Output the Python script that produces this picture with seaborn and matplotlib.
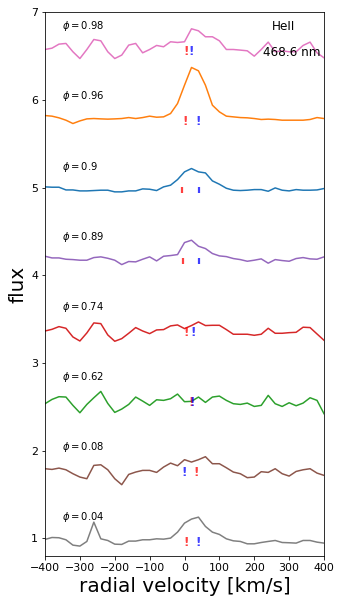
import numpy as np
import pandas as pd
import matplotlib
matplotlib.use("Agg")
import matplotlib.pyplot as plt
import seaborn as sns

# radial velocity grid [km/s]
velocity = np.arange(-400, 401, 20)

# orbital phases, bottom to top
phases = ['0.04', '0.08', '0.62', '0.74', '0.89', '0.9', '0.96', '0.98']
offsets = [0.0, 0.8, 1.6, 2.4, 3.2, 4.0, 4.8, 5.6]
colors = ['tab:gray', 'tab:brown', 'tab:green', 'tab:red',
          'tab:purple', 'tab:blue', 'tab:orange', 'tab:pink']

# normalized HeII 468.6 nm profiles
flux_004 = [0.989, 1.011, 1.008, 0.985, 0.924, 0.913, 0.966, 1.186, 0.996, 0.977,
            0.935, 0.932, 0.970, 0.970, 0.985, 0.985, 0.996, 0.992, 1.004, 1.072,
            1.175, 1.221, 1.243, 1.137, 1.072, 1.046, 0.996, 0.973, 0.966, 0.939,
            0.939, 0.954, 0.966, 0.977, 0.954, 0.951, 0.947, 0.977, 0.977, 0.958, 0.947]
flux_008 = [0.995, 0.987, 1.002, 0.983, 0.938, 0.900, 0.881, 1.033, 1.040, 0.983,
            0.881, 0.813, 0.930, 0.957, 0.976, 0.976, 0.953, 1.014, 1.059, 1.029,
            1.098, 1.071, 1.098, 1.132, 1.052, 1.052, 1.006, 0.957, 0.938, 0.893,
            0.900, 0.961, 0.953, 0.995, 0.938, 0.911, 0.964, 0.983, 0.995, 0.945, 0.919]
flux_062 = [0.936, 0.985, 1.016, 1.012, 0.917, 0.833, 0.928, 1.004, 1.076, 0.939,
            0.837, 0.875, 0.928, 1.012, 0.966, 0.917, 0.981, 0.974, 0.993, 1.046,
            0.959, 0.963, 1.012, 0.951, 1.012, 1.023, 0.974, 0.936, 0.928, 0.943,
            0.905, 0.917, 1.031, 0.936, 0.905, 0.947, 0.913, 0.943, 1.004, 0.974, 0.822]
flux_074 = [0.965, 0.984, 1.015, 0.996, 0.897, 0.851, 0.943, 1.057, 1.049, 0.920,
            0.848, 0.878, 0.939, 1.004, 0.965, 0.935, 0.977, 0.981, 1.023, 1.034,
            0.992, 1.027, 1.068, 1.027, 1.030, 1.030, 0.981, 0.928, 0.928, 0.928,
            0.916, 0.928, 0.996, 0.939, 0.939, 0.946, 0.950, 1.008, 1.004, 0.931, 0.859]
flux_089 = [1.017, 0.998, 0.998, 0.983, 0.979, 0.972, 0.972, 1.002, 1.010, 0.994,
            0.972, 0.922, 0.957, 0.953, 0.983, 1.010, 0.964, 1.017, 1.025, 1.036,
            1.173, 1.200, 1.131, 1.105, 1.048, 1.021, 1.013, 0.991, 0.979, 0.960,
            0.972, 0.987, 0.938, 0.979, 0.968, 0.960, 0.991, 1.002, 0.987, 0.983, 1.010]
flux_090 = [1.008, 1.004, 1.004, 0.973, 0.973, 0.962, 0.962, 0.966, 0.970, 0.970,
            0.951, 0.951, 0.962, 0.962, 0.985, 0.981, 0.966, 1.008, 1.027, 1.091,
            1.179, 1.217, 1.179, 1.167, 1.076, 1.038, 0.992, 0.970, 0.966, 0.970,
            0.977, 0.977, 0.958, 0.996, 0.970, 0.962, 0.977, 0.970, 0.970, 0.973, 0.989]
flux_096 = [1.021, 1.014, 0.995, 0.968, 0.930, 0.960, 0.983, 0.987, 0.983, 0.980,
            0.983, 0.987, 0.998, 0.987, 0.998, 1.014, 1.002, 1.006, 1.044, 1.158,
            1.367, 1.569, 1.531, 1.367, 1.139, 1.063, 1.014, 1.006, 0.998, 0.995,
            0.987, 0.976, 0.980, 0.976, 0.968, 0.968, 0.968, 0.968, 0.976, 0.998, 0.987]
flux_098 = [0.974, 0.989, 1.035, 1.043, 0.948, 0.871, 0.974, 1.088, 1.073, 0.948,
            0.871, 0.910, 1.024, 1.043, 0.936, 0.974, 1.020, 1.005, 1.062, 1.054,
            1.062, 1.210, 1.187, 1.119, 1.119, 1.073, 0.974, 0.974, 0.967, 0.959,
            0.898, 0.974, 1.058, 0.948, 0.959, 0.948, 0.948, 1.020, 1.058, 0.936, 0.879]
profiles = [flux_004, flux_008, flux_062, flux_074, flux_089, flux_090, flux_096, flux_098]

# velocities of the red and blue component markers for each phase
red_marks = [6, 33, 18, 6, -4, -6, 3, 5]
blue_marks = [38, -1, 21, 26, 42, 42, 38, 20]

rows = []
for phase, off, prof in zip(phases, offsets, profiles):
    for v, f in zip(velocity, prof):
        rows.append((phase, v, f + off))
df = pd.DataFrame(rows, columns=['phase', 'velocity', 'flux'])

fig = plt.figure(figsize=(342 / 72, 606 / 72), dpi=72)
ax = fig.add_axes([0.1316, 0.0825, 0.8158, 0.8975])

sns.lineplot(data=df, x='velocity', y='flux', hue='phase',
             palette=dict(zip(phases, colors)), hue_order=phases,
             linewidth=1.5, legend=False, ax=ax)

for phase, off, rv, bv in zip(phases, offsets, red_marks, blue_marks):
    ax.text(-350, off + 1.24, r'$\phi = %s$' % phase, fontsize=10,
            ha='left', va='center')
    if phase in ('0.89', '0.9'):
        for v, c in ((rv, 'red'), (bv, 'blue')):
            ax.plot([v], [off + 0.967], marker='|', markersize=6, mew=2.2,
                    color=c, alpha=0.75)
    else:
        for v, c in ((rv, 'red'), (bv, 'blue')):
            ax.text(v, off + 0.95, '!', color=c, alpha=0.75, fontsize=12,
                    fontweight='bold', ha='center', va='center')

ax.text(251, 6.84, 'HeII', fontsize=12, ha='left', va='center')
ax.text(225, 6.545, '468.6 nm', fontsize=12, ha='left', va='center')

ax.set_xlim(-400, 400)
ax.set_ylim(0.8, 7)
ax.set_xticks(np.arange(-400, 401, 100))
ax.set_yticks(np.arange(1, 8))
ax.tick_params(labelsize=11)
ax.set_xlabel('radial velocity [km/s]', fontsize=20)
ax.set_ylabel('flux', fontsize=20)

fig.savefig('out.png', dpi=72)
plt.close(fig)
